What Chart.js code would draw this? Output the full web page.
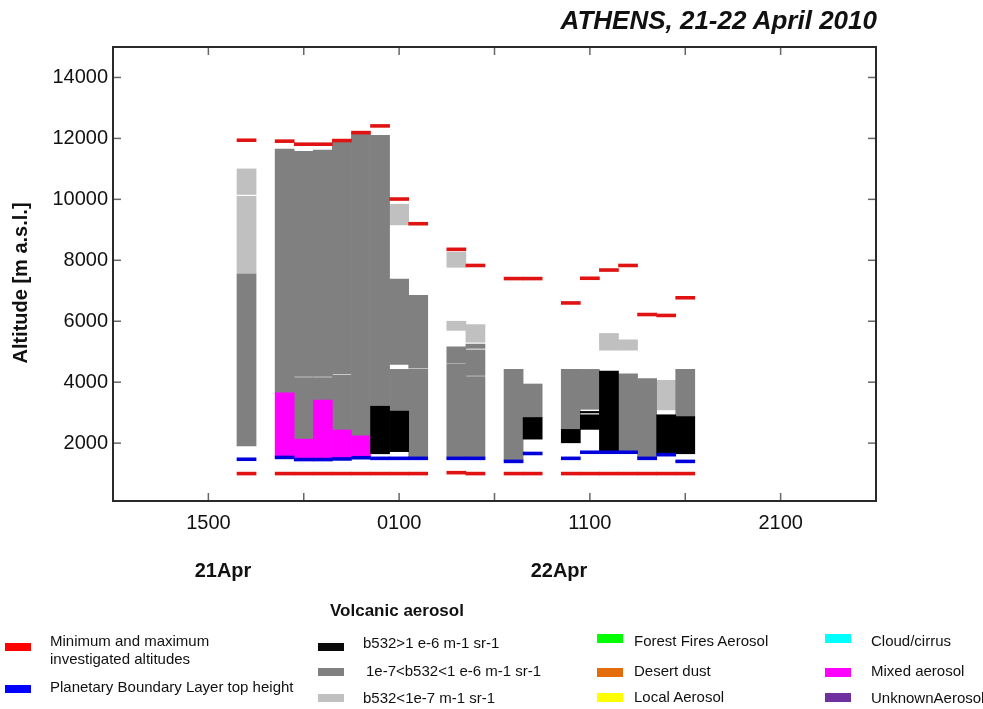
<!DOCTYPE html>
<html><head><meta charset="utf-8">
<script src="https://cdn.jsdelivr.net/npm/chart.js@4.4.0/dist/chart.umd.min.js"></script>
<style>
html,body{margin:0;padding:0;background:#fff;overflow:hidden;}
#wrap{position:relative;width:983px;height:709px;font-family:"Liberation Sans",Arial,Helvetica,sans-serif;color:#111;overflow:hidden;}
canvas{position:absolute;left:0;top:0;}
.t{position:absolute;white-space:nowrap;font-size:15px;line-height:18px;}
.sw{position:absolute;width:26px;height:8px;}
#title{position:absolute;right:106px;top:7px;font-size:26px;line-height:26px;font-weight:bold;font-style:italic;white-space:nowrap;}
#ytitle{position:absolute;left:-80.5px;top:270.5px;width:200px;text-align:center;font-size:20px;line-height:24px;font-weight:bold;transform:rotate(-90deg);white-space:nowrap;}
.date{position:absolute;font-size:20px;line-height:20px;font-weight:bold;width:100px;text-align:center;}
</style></head><body>
<div id="wrap">
<canvas id="c" width="983" height="709"></canvas>
<div id="title">ATHENS, 21-22 April 2010</div>
<div id="ytitle">Altitude [m a.s.l.]</div>
<div class="date" style="left:173px;top:560px;">21Apr</div>
<div class="date" style="left:509px;top:560px;">22Apr</div>

<div class="t" style="left:330px;top:601px;font-size:17px;line-height:20px;font-weight:bold;">Volcanic aerosol</div>

<div class="sw" style="left:5px;top:643px;background:#ff0000;"></div>
<div class="t" style="left:50px;top:632px;">Minimum and maximum</div>
<div class="t" style="left:50px;top:650px;">investigated altitudes</div>
<div class="sw" style="left:5px;top:685px;background:#0000ff;"></div>
<div class="t" style="left:50px;top:678px;">Planetary Boundary Layer top height</div>

<div class="sw" style="left:318px;top:643px;background:#0a0a0a;"></div>
<div class="t" style="left:363px;top:634px;">b532&gt;1 e-6 m-1 sr-1</div>
<div class="sw" style="left:318px;top:668px;background:#808080;"></div>
<div class="t" style="left:366px;top:662px;">1e-7&lt;b532&lt;1 e-6 m-1 sr-1</div>
<div class="sw" style="left:318px;top:694px;background:#c0c0c0;"></div>
<div class="t" style="left:363px;top:689px;">b532&lt;1e-7 m-1 sr-1</div>

<div class="sw" style="left:597px;top:634px;height:9px;background:#00ff00;"></div>
<div class="t" style="left:634px;top:632px;">Forest Fires Aerosol</div>
<div class="sw" style="left:597px;top:668px;height:9px;background:#e46c0a;"></div>
<div class="t" style="left:634px;top:662px;">Desert dust</div>
<div class="sw" style="left:597px;top:693px;height:9px;background:#ffff00;"></div>
<div class="t" style="left:634px;top:688px;">Local Aerosol</div>

<div class="sw" style="left:825px;top:634px;height:9px;background:#00ffff;"></div>
<div class="t" style="left:871px;top:632px;">Cloud/cirrus</div>
<div class="sw" style="left:825px;top:668px;height:9px;background:#ff00ff;"></div>
<div class="t" style="left:871px;top:662px;">Mixed aerosol</div>
<div class="sw" style="left:825px;top:693px;height:9px;background:#7030a0;"></div>
<div class="t" style="left:871px;top:689px;">UnknownAerosol</div>
</div>
<script>
// x values: hours counted from 21 April 2010 00:00 (24 = 22 April 00:00)
const hours       = [17, 19, 20, 21, 22, 23, 24, 25, 26, 28, 29, 31, 32, 34, 35, 36, 37, 38, 39, 40];
const maxAltitude = [11940, 11910, 11810, 11810, 11930, 12190, 12410, 10010, 9200, 8360, 7830, 7400, 7400, 6600, 7410, 7680, 7830, 6220, 6190, 6770];
const minAltitude = [1000, 1000, 1000, 1000, 1000, 1000, 1000, 1000, 1000, 1030, 1000, 1000, 1000, 1000, 1000, 1000, 1000, 1000, 1000, 1000];
const pblHeight   = [1470, 1530, 1460, 1460, 1480, 1520, 1500, 1500, 1500, 1500, 1500, 1400, 1660, 1500, 1700, 1700, 1700, 1500, 1620, 1400];

// layers: [hour, base (m), top (m)]
const volcanicHigh = [
  [24, 1650, 3210], [25, 1720, 3050], [32, 2130, 2840], [34, 2010, 2450],
  [35, 2450, 2930], [35, 2990, 3040], [36, 1730, 4360], [39, 1640, 2930], [40, 1650, 2870]
];
const volcanicMid = [
  [17, 1910, 7550],
  [19, 3650, 11650],
  [20, 2130, 4150], [20, 4190, 11580],
  [21, 3410, 4150], [21, 4190, 11620],
  [22, 2430, 4230], [22, 4270, 11890],
  [23, 2240, 12130],
  [24, 3210, 12100],
  [25, 3050, 4420], [25, 4580, 7380],
  [26, 1520, 4420], [26, 4460, 6850],
  [28, 1500, 4600], [28, 4630, 5160],
  [29, 1500, 4180], [29, 4220, 5060], [29, 5110, 5250],
  [31, 1440, 4420],
  [32, 2840, 3940],
  [34, 2450, 4420],
  [35, 3110, 4420],
  [37, 1700, 4270],
  [38, 1530, 4120],
  [40, 2870, 4420]
];
const volcanicLow = [
  [17, 7550, 10100], [17, 10160, 11000],
  [25, 9160, 9840],
  [28, 5700, 6000], [28, 7770, 8270],
  [29, 5310, 5890],
  [36, 5050, 5600],
  [37, 5050, 5390],
  [39, 3090, 4060]
];
const mixedAerosol = [
  [19, 1550, 3650], [20, 1500, 2130], [21, 1500, 3410], [22, 1520, 2430], [23, 1530, 2240]
];

const yTickValues  = [2000, 4000, 6000, 8000, 10000, 12000, 14000];
const xTickValues  = [15, 25, 35, 45];
const xTickLabels  = ['1500', '0100', '1100', '2100'];
const xTickMarks   = [15, 20, 25, 30, 35, 40, 45];

const LINE_HALF = 48; // half thickness of altitude marker lines, in metres

function layerData(arr) { return arr.map(([x, lo, hi]) => ({x: x, y: [lo, hi]})); }
function lineData(vals) { return hours.map((x, i) => ({x: x, y: [vals[i] - LINE_HALF, vals[i] + LINE_HALF]})); }

const barBase = {grouped: false, barPercentage: 1, categoryPercentage: 1, borderWidth: 0, borderSkipped: false};

const framePlugin = {
  id: 'frame',
  afterDatasetsDraw(chart) {
    const {ctx, chartArea: a, scales: {x, y}} = chart;
    ctx.save();
    const seg = (x1, y1, x2, y2) => { ctx.beginPath(); ctx.moveTo(x1, y1); ctx.lineTo(x2, y2); ctx.stroke(); };
    ctx.strokeStyle = '#666'; ctx.lineWidth = 1.5;
    xTickMarks.forEach(v => { const p = x.getPixelForValue(v); seg(p, a.bottom, p, a.bottom - 8); seg(p, a.top, p, a.top + 8); });
    yTickValues.forEach(v => { const p = y.getPixelForValue(v); seg(a.left, p, a.left + 8, p); seg(a.right, p, a.right - 8, p); });
    ctx.strokeStyle = '#2a2a2a'; ctx.lineWidth = 2;
    ctx.strokeRect(a.left, a.top, a.right - a.left, a.bottom - a.top);
    ctx.restore();
  }
};

const tickFont = {family: '"Liberation Sans", Arial, sans-serif', size: 20};

new Chart(document.getElementById('c'), {
  type: 'bar',
  data: {
    datasets: [
      Object.assign({label: 'Maximum investigated altitude', data: lineData(maxAltitude), backgroundColor: '#e01212', order: 0}, barBase),
      Object.assign({label: 'Minimum investigated altitude', data: lineData(minAltitude), backgroundColor: '#e01212', order: 0}, barBase),
      Object.assign({label: 'Planetary Boundary Layer top height', data: lineData(pblHeight), backgroundColor: '#0000dd', order: 1}, barBase),
      Object.assign({label: 'b532>1 e-6 m-1 sr-1', data: layerData(volcanicHigh), backgroundColor: '#000000', order: 2}, barBase),
      Object.assign({label: '1e-7<b532<1 e-6 m-1 sr-1', data: layerData(volcanicMid), backgroundColor: '#808080', order: 3}, barBase),
      Object.assign({label: 'b532<1e-7 m-1 sr-1', data: layerData(volcanicLow), backgroundColor: '#c0c0c0', order: 3}, barBase),
      Object.assign({label: 'Mixed aerosol', data: layerData(mixedAerosol), backgroundColor: '#ff00ff', order: 2}, barBase)
    ]
  },
  options: {
    responsive: false,
    animation: false,
    devicePixelRatio: 1,
    layout: {padding: {top: 47, right: 107, bottom: 0, left: 0}},
    plugins: {legend: {display: false}, tooltip: {enabled: false}, title: {display: false}},
    scales: {
      x: {
        type: 'linear', min: 10, max: 50, offset: false,
        grid: {display: false, drawTicks: false}, border: {display: false},
        afterBuildTicks: s => { s.ticks = xTickValues.map(v => ({value: v})); },
        afterFit: s => { s.height = 208; },
        ticks: {autoSkip: false, maxRotation: 0, padding: 10, color: '#111', font: tickFont,
          callback: (v, i) => xTickLabels[i]}
      },
      y: {
        type: 'linear', min: 100, max: 15000,
        grid: {display: false, drawTicks: false}, border: {display: false},
        afterBuildTicks: s => { s.ticks = yTickValues.map(v => ({value: v})); },
        afterFit: s => { s.width = 113; },
        ticks: {padding: 5, color: '#111', font: tickFont, callback: v => String(v)}
      }
    }
  },
  plugins: [framePlugin]
});
</script>
</body></html>
